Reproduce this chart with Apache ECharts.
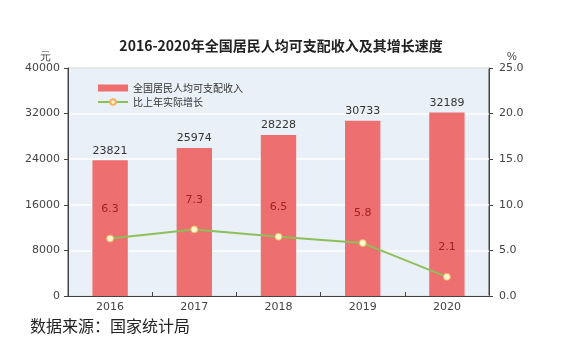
<!DOCTYPE html>
<html><head><meta charset="utf-8">
<script src="https://cdn.jsdelivr.net/npm/echarts@6/dist/echarts.min.js"></script>
<style>html,body{margin:0;padding:0;background:#fff}#c{width:562px;height:349px}</style>
</head><body><div id="c"></div>
<script>
const years = ['2016','2017','2018','2019','2020'];
const income = [23821, 25974, 28228, 30733, 32189];
const growth = [6.3, 7.3, 6.5, 5.8, 2.1];
const leftTicks = {min: 0, max: 40000, interval: 8000};
const rightTicks = {min: 0, max: 25, interval: 5};

const chart = echarts.init(document.getElementById('c'), null, {renderer: 'canvas'});
chart.setOption({
  backgroundColor: '#ffffff',
  animation: false,
  title: {
    text: '2016-2020年全国居民人均可支配收入及其增长速度',
    left: 'center', top: 34,
    textStyle: {fontFamily: 'Noto Sans CJK SC', fontSize: 14, fontWeight: 'bold', color: '#222'}
  },
  graphic: [
    {type: 'text', left: 30, top: 318, style: {text: '数据来源：国家统计局', font: '16px "Noto Sans CJK SC"', fill: '#222'}}
  ],
  legend: {
    orient: 'vertical', left: 92, top: 78, itemGap: 4, itemWidth: 30, itemHeight: 7,
    textStyle: {fontFamily: 'Noto Sans CJK SC', fontSize: 10, color: '#333'},
    data: [{name: '全国居民人均可支配收入', icon: 'rect'}, {name: '比上年实际增长'}]
  },
  grid: {left: 68, right: 73, top: 68, bottom: 53, show: true, backgroundColor: '#e9f0f7', borderColor: '#444', borderWidth: 1},
  xAxis: {
    type: 'category', data: years,
    axisLine: {lineStyle: {color: '#444'}},
    axisTick: {show: true, inside: true, length: 4, lineStyle: {color: '#444'}},
    axisLabel: {color: '#444', fontSize: 11, margin: 6, fontFamily: 'DejaVu Sans'}
  },
  yAxis: [
    {
      type: 'value', name: '元', nameLocation: 'end', nameGap: 5,
      nameTextStyle: {color: '#444', fontSize: 11, align: 'center', padding: [0, 0, 0, -46]},
      min: leftTicks.min, max: leftTicks.max, interval: leftTicks.interval,
      axisLine: {show: true, lineStyle: {color: '#444'}},
      axisTick: {show: true, length: 4, lineStyle: {color: '#444'}},
      axisLabel: {color: '#444', fontSize: 11, margin: 8, fontFamily: 'DejaVu Sans', formatter: v => String(v)},
      splitLine: {show: true, lineStyle: {color: '#ffffff', width: 1.5}}
    },
    {
      type: 'value', name: '%', nameLocation: 'end', nameGap: 5,
      nameTextStyle: {color: '#444', fontSize: 11, align: 'left', padding: [0, 0, 0, 18]},
      min: rightTicks.min, max: rightTicks.max, interval: rightTicks.interval,
      axisLine: {show: true, lineStyle: {color: '#444'}},
      axisTick: {show: true, length: 4, lineStyle: {color: '#444'}},
      axisLabel: {color: '#444', fontSize: 11, margin: 10, fontFamily: 'DejaVu Sans', formatter: v => v.toFixed(1)},
      splitLine: {show: false}
    }
  ],
  series: [
    {
      name: '全国居民人均可支配收入', type: 'bar', data: income, barWidth: '42%',
      itemStyle: {color: '#ee6f6f'},
      label: {show: true, position: 'top', distance: 4, color: '#333', fontSize: 11, fontFamily: 'DejaVu Sans'}
    },
    {
      name: '比上年实际增长', type: 'line', yAxisIndex: 1, data: growth,
      symbol: 'circle', symbolSize: 7,
      lineStyle: {color: '#8dbf5a', width: 2},
      itemStyle: {color: '#fff6cc', borderColor: '#f5b060', borderWidth: 1},
      label: {show: true, position: 'top', distance: 20, color: '#a52020', fontSize: 11, fontFamily: 'DejaVu Sans', formatter: p => p.value.toFixed(1)}
    }
  ]
});
</script></body></html>
